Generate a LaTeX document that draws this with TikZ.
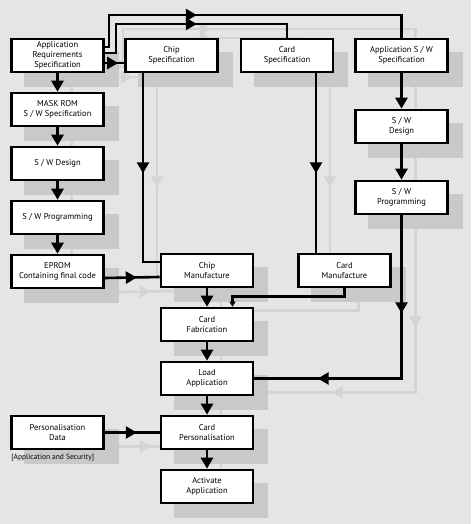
\documentclass[tikz,border=0pt]{standalone}
\usepackage{fontspec}
\setmainfont{PT Sans}
\usetikzlibrary{arrows.meta,decorations.markings,backgrounds}

\definecolor{paper}{gray}{0.9}
\definecolor{boxshade}{gray}{0.79}
\definecolor{lineshade}{gray}{0.83}

% every connector, drawn once as shadow and once for real
\newcommand{\flowlinks}{%
  \draw[link, tip at=124pt] ([yshift=8.5pt]appreq.east) -| (top1) -| (appswspec);
  \draw[link, tip at=121pt] ([yshift=2.5pt]appreq.east) -| (top2) -| (cardspec);
  \draw[link, tip at=-6pt] ([yshift=-7.5pt]appreq.east) -- ([yshift=-7.5pt]chipspec.west);
  \draw[link, endtip] (appreq) -- (maskrom);
  \draw[link, endtip] (maskrom) -- (swdesign);
  \draw[link, endtip] (swdesign) -- (swprog);
  \draw[link, endtip] (swprog) -- (eprom);
  \draw[link, tip at=100pt] ([xshift=-28.5pt]chipspec.south) |- ([yshift=8.5pt]chipman.west);
  \draw[link, tip at=32pt] ([yshift=-6.5pt]eprom.east) -- ([yshift=-6.5pt]chipman.west);
  \draw[link, tip at=100pt] ([xshift=29pt]cardspec.south) -- ([xshift=-28.5pt]cardman.north);
  \draw[link, endtip] (chipman) -- (cardfab);
  \draw[link, smalltip] (cardman.south) -- ++(0,8) -| ([xshift=25.5pt]cardfab.north);
  \draw[link, endtip] (appswspec) -- (swdesignr);
  \draw[link, endtip] (swdesignr) -- (swprogr);
  \draw[link, tip at=98pt, tip at=247pt] (swprogr.south) |- (loadapp.east);
  \draw[link, endtip] (cardfab) -- (loadapp);
  \draw[link, endtip] (loadapp) -- (cardpers);
  \draw[link, endtip] (cardpers) -- (activate);
  \draw[link, tip at=32pt] (persdata) -- (cardpers);
}

\begin{document}
\begin{tikzpicture}[x=1pt, y=-1pt, node distance=54pt,
    box/.style={rectangle, draw=black, fill=white, line width=2.6pt, minimum width=92pt, minimum height=33pt, inner sep=1pt, align=center, font=\fontsize{8.5}{10}\selectfont},
    note/.style={inner sep=1pt, font=\fontsize{7.5}{9}\selectfont},
    link/.style={draw, line width=2.6pt},
    endtip/.style={-{Triangle[length=11pt,width=12pt]}},
    smalltip/.style={-{Triangle[length=5pt,width=6pt]}},
    tip at/.style={postaction={decorate, decoration={markings, mark=at position #1 with {\arrow{Triangle[length=11pt,width=12pt]}}}}}]
    \useasboundingbox (0,0) rectangle (471,524);

    % left column
    \node[box] (appreq) at (57.5,55.5) {Application\\Requirements\\Specification};
    \node[box, below of=appreq] (maskrom) {MASK ROM\\S / W Specification};
    \node[box, below of=maskrom] (swdesign) {S / W Design};
    \node[box, below of=swdesign] (swprog) {S / W Programming};
    \node[box, below of=swprog] (eprom) {EPROM\\Containing final code};

    % top row and right column
    \node[box] (chipspec) at (171.5,55.5) {Chip\\Specification};
    \node[box] (cardspec) at (287,55.5) {Card\\Specification};
    \node[box] (appswspec) at (401.5,55.5) {Application S / W\\Specification};
    \node[box, below of=appswspec, node distance=71pt] (swdesignr) {S / W\\Design};
    \node[box, below of=swdesignr, node distance=71pt] (swprogr) {S / W\\Programming};

    % middle column
    \node[box] (chipman) at (207,270.5) {Chip\\Manufacture};
    \node[box] (cardman) at (344.5,270.5) {Card\\Manufacture};
    \node[box, below of=chipman] (cardfab) {Card\\Fabrication};
    \node[box, below of=cardfab] (loadapp) {Load\\Application};
    \node[box, below of=loadapp] (cardpers) {Card\\Personalisation};
    \node[box, below of=cardpers] (activate) {Activate\\Application};
    \node[box, left of=cardpers, node distance=149.5pt] (persdata) {Personalisation\\Data};
    \node[note, anchor=north west] (persnote) at ([yshift=-3pt]persdata.south west) {[Application and Security]};

    \coordinate (top1) at (109,15);
    \coordinate (top2) at (116,24);

    \flowlinks

    % grey page and the shadow copy
    \begin{pgfonlayer}{background}
        \fill[paper] (0,0) rectangle (471,524);
        \begin{scope}[transform canvas={shift={(14pt,-14pt)}}, color=lineshade]
            \foreach \n in {appreq,maskrom,swdesign,swprog,eprom,chipspec,cardspec,appswspec,swdesignr,swprogr,chipman,cardman,cardfab,loadapp,cardpers,activate,persdata}
                \fill[boxshade] (\n.south west) rectangle (\n.north east);
            \flowlinks
        \end{scope}
    \end{pgfonlayer}
\end{tikzpicture}
\end{document}
